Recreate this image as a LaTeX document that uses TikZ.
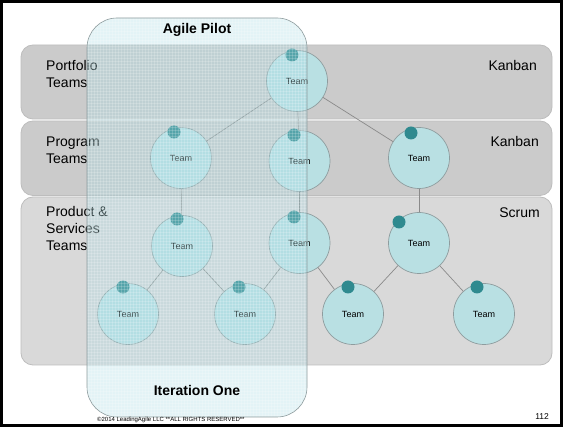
\documentclass[tikz,border=0pt]{standalone}
\usepackage{fontspec}
\setmainfont{Liberation Sans}
\usepackage{tikz}

\definecolor{bandgray}{HTML}{CBCBCB}
\definecolor{bandlight}{HTML}{D9D9D9}
\definecolor{bandedge}{HTML}{BDBDBD}
\definecolor{teamfill}{HTML}{B9E0E3}
\definecolor{teamline}{HTML}{8E9C9E}
\definecolor{dotteal}{HTML}{2F8A8F}
\definecolor{linkgray}{HTML}{8A8A8A}
\definecolor{pilotcyan}{HTML}{A8DCE4}

\tikzset{
	band/.style={fill=bandgray, draw=bandedge, line width=0.8pt, rounded corners=12pt},
	lane/.style={font=\fontsize{14}{17}\selectfont, align=left, anchor=base west, inner sep=0pt},
	team/.style={circle, fill=teamfill, draw=teamline, line width=0.7pt, minimum size=61pt, inner sep=0pt, font=\fontsize{9}{10}\selectfont},
	teamdot/.style={circle, fill=dotteal, minimum size=13pt, inner sep=0pt},
	link/.style={draw=linkgray, line width=0.7pt},
	pilottitle/.style={font=\fontsize{14}{17}\selectfont\bfseries, anchor=base, inner sep=0pt}
}

\begin{document}
\begin{tikzpicture}[x=1pt,y=-1pt]
			\useasboundingbox (0,0) rectangle (563,427);
			\fill[white] (0,0) rectangle (563,427);
			% swim lanes
			\filldraw[band] (21,45) rectangle (552,119);
			\filldraw[band] (21,121) rectangle (552,195.5);
			\filldraw[band, fill=bandlight] (21,197) rectangle (552,365);
			\node[lane] (portfolio) at (46,88) {Portfolio\\Teams};
			\node[lane] (program) at (46,164) {Program\\Teams};
			\node[lane] (product) at (46,251) {Product \&\\Services\\Teams};
			\node[lane, anchor=base east] (kanbanA) at (537,71) {Kanban};
			\node[lane, anchor=base east] (kanbanB) at (539,147) {Kanban};
			\node[lane, anchor=base east] (scrum) at (540,218) {Scrum};
			% teams
			\node[team] (top) at (297,81) {Team};
			\node[team] (pl) at (181,158) {Team};
			\node[team] (pm) at (299.5,161) {Team};
			\node[team] (pr) at (419,158) {Team};
			\node[team] (sl) at (182,246) {Team};
			\node[team] (sm) at (299.5,243) {Team};
			\node[team] (sr) at (419,243) {Team};
			\node[team] (b1) at (128,314) {Team};
			\node[team] (b2) at (245,314) {Team};
			\node[team] (b3) at (353,314) {Team};
			\node[team] (b4) at (484,314) {Team};
			\foreach \a/\b in {top/pl,top/pm,top/pr,pl/sl,pm/sm,pr/sr,sl/b1,sl/b2,sm/b2,sm/b3,sr/b3,sr/b4}
				\draw[link] (\a) -- (\b);
			\foreach \n/\dx/\dy in {top/-5/-26,pl/-7/-26,pm/-5.5/-26,pr/-8/-25,sl/-5/-27,sm/-5.5/-26,sr/-20/-21,b1/-5/-27,b2/-6/-27,b3/-5/-27,b4/-7/-27}
				\node[teamdot] (\n-d) at ([shift={(\dx,\dy)}]\n) {};
			% agile pilot overlay
			\path[fill=pilotcyan, fill opacity=0.32, rounded corners=30pt] (87,18) rectangle (307,417);
			\begin{scope}
				\clip[rounded corners=30pt] (87,18) rectangle (307,417);
				\foreach \gx in {88,91,...,307}
					\draw[white, line width=0.4pt, opacity=0.18] (\gx,18) -- (\gx,417);
				\foreach \gy in {19,22,...,417}
					\draw[white, line width=0.4pt, opacity=0.18] (87,\gy) -- (307,\gy);
			\end{scope}
			\draw[teamline, line width=0.6pt, rounded corners=30pt] (87,18) rectangle (307,417);
			\node[pilottitle] (pilot) at (197,34) {Agile Pilot};
			\node[pilottitle] (iteration) at (197,396) {Iteration One};
			% footer
			\node[font=\fontsize{6}{7}\selectfont, anchor=base west, inner sep=0pt] (copyright) at (97,422) {©2014 LeadingAgile LLC **ALL RIGHTS RESERVED**};
			\node[font=\fontsize{8.5}{10}\selectfont, anchor=base east, inner sep=0pt] (page) at (549,420) {112};
			\draw[line width=3.2pt] (1.6,1.6) rectangle (561.4,425.4);
		\end{tikzpicture}
\end{document}
